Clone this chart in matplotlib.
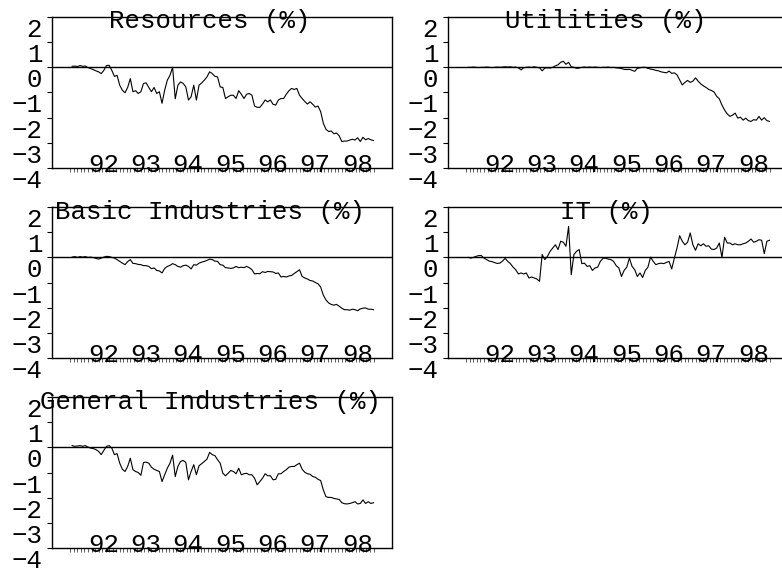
import numpy as np
import matplotlib
matplotlib.use("Agg")
import matplotlib.pyplot as plt
from matplotlib.transforms import ScaledTranslation

# relative sector returns (%), one value every 1/16 year from Aug 1991
start_year = 1991.625

resources = [0.04, 0.05, 0.03, 0.07, 0.04, 0.05, -0.01, -0.05, -0.09, -0.14,
             -0.18, -0.25, -0.12, 0.07, 0.08, -0.12, -0.36, -0.32, -0.71, -0.91,
             -1.01, -0.80, -0.45, -0.97, -0.93, -1.04, -0.97, -0.64, -0.62, -0.80,
             -0.97, -0.80, -1.04, -0.97, -1.43, -0.91, -0.51, -0.32, 0.0, -1.25,
             -0.71, -0.58, -0.64, -0.78, -1.30, -1.17, -0.71, -1.30, -0.71, -0.62,
             -0.51, -0.38, -0.18, -0.25, -0.36, -0.38, -0.78, -0.80, -1.24, -1.17,
             -1.11, -1.11, -1.24, -0.93, -1.07, -1.24, -1.07, -1.04, -1.11, -1.54,
             -1.59, -1.59, -1.46, -1.30, -1.37, -1.30, -1.47, -1.50, -1.30, -1.24,
             -1.24, -1.07, -0.93, -0.84, -0.88, -0.84, -1.11, -1.24, -1.36, -1.46,
             -1.37, -1.47, -1.58, -1.54, -1.76, -2.22, -2.46, -2.55, -2.53, -2.64,
             -2.61, -2.72, -2.95, -2.93, -2.93, -2.89, -2.86, -2.89, -2.80, -2.95,
             -2.78, -2.88, -2.83, -2.88, -2.91]

utilities = [0.0, 0.0, 0.01, 0.0, -0.01, 0.0, 0.0, 0.01, 0.0, -0.01,
             0.0, 0.01, 0.0, 0.01, 0.02, 0.01, 0.02, 0.0, 0.01, -0.02,
             -0.10, -0.02, 0.0, 0.01, 0.0, 0.02, 0.0, -0.02, -0.14, -0.03,
             -0.02, -0.03, 0.0, 0.06, 0.10, 0.20, 0.24, 0.12, 0.20, 0.02,
             0.0, -0.04, -0.03, 0.0, 0.01, 0.0, 0.01, 0.0, 0.01, 0.0,
             -0.01, 0.0, 0.0, 0.01, -0.01, 0.0, -0.02, -0.03, -0.05, -0.08,
             -0.09, -0.08, -0.12, -0.16, -0.04, -0.02, 0.0, 0.0, -0.04, -0.07,
             -0.09, -0.12, -0.14, -0.18, -0.20, -0.22, -0.15, -0.24, -0.22, -0.30,
             -0.50, -0.70, -0.60, -0.52, -0.60, -0.55, -0.42, -0.55, -0.66, -0.74,
             -0.80, -0.88, -0.92, -0.98, -1.15, -1.25, -1.50, -1.70, -1.85, -1.95,
             -1.90, -1.82, -2.02, -1.98, -2.10, -2.02, -2.12, -2.15, -2.08, -2.10,
             -1.95, -2.10, -2.00, -2.12, -2.15]

basic = [0.01, 0.03, 0.0, 0.03, 0.01, 0.03, 0.0, 0.01, -0.01, -0.04,
         -0.07, -0.03, 0.01, 0.04, 0.03, 0.0, -0.03, -0.09, -0.16, -0.23,
         -0.29, -0.17, -0.09, -0.24, -0.25, -0.28, -0.29, -0.33, -0.33, -0.36,
         -0.45, -0.42, -0.52, -0.54, -0.62, -0.44, -0.36, -0.32, -0.25, -0.29,
         -0.36, -0.39, -0.33, -0.31, -0.36, -0.46, -0.29, -0.31, -0.23, -0.19,
         -0.16, -0.12, -0.07, -0.09, -0.15, -0.16, -0.29, -0.31, -0.41, -0.42,
         -0.44, -0.42, -0.36, -0.41, -0.39, -0.41, -0.36, -0.41, -0.49, -0.66,
         -0.64, -0.65, -0.57, -0.60, -0.56, -0.57, -0.58, -0.64, -0.62, -0.78,
         -0.76, -0.78, -0.74, -0.72, -0.64, -0.57, -0.49, -0.76, -0.82, -0.86,
         -0.92, -0.94, -1.00, -1.05, -1.18, -1.50, -1.69, -1.81, -1.87, -1.90,
         -1.87, -1.94, -2.02, -2.08, -2.08, -2.10, -2.06, -2.08, -2.12, -2.05,
         -2.02, -2.01, -2.06, -2.06, -2.08]

it = [0.0, -0.03, 0.0, 0.04, 0.07, 0.07, -0.03, -0.09, -0.15, -0.17,
      -0.21, -0.24, -0.23, -0.15, -0.04, -0.16, -0.25, -0.39, -0.49, -0.66,
      -0.62, -0.66, -0.62, -0.82, -0.78, -0.82, -0.86, -0.95, 0.11, -0.09,
      0.04, 0.24, 0.37, 0.50, 0.31, 0.64, 0.60, 0.44, 1.23, -0.69,
      0.11, 0.24, 0.31, -0.25, -0.23, -0.36, -0.33, -0.52, -0.42, -0.39,
      -0.16, -0.04, -0.03, -0.07, -0.09, -0.16, -0.33, -0.42, -0.76, -0.52,
      -0.39, -0.03, -0.36, -0.49, -0.76, -0.62, -0.80, -0.52, -0.39, 0.01,
      -0.16, -0.29, -0.25, -0.23, -0.25, -0.20, -0.16, -0.46, -0.03, 0.37,
      0.86, 0.64, 0.50, 0.60, 0.97, 0.50, 0.28, 0.54, 0.46, 0.54,
      0.44, 0.46, 0.33, 0.31, 0.37, 0.57, 0.0, 0.80, 0.57, 0.57,
      0.50, 0.54, 0.50, 0.50, 0.54, 0.57, 0.64, 0.73, 0.60, 0.64,
      0.70, 0.68, 0.15, 0.64, 0.68]

general = [0.07, 0.04, 0.05, 0.07, 0.04, 0.07, 0.01, -0.03, -0.05, -0.09,
           -0.16, -0.29, -0.12, 0.04, 0.07, -0.03, -0.29, -0.25, -0.63, -0.87,
           -0.96, -0.76, -0.43, -0.89, -0.96, -1.00, -1.11, -0.60, -0.59, -0.63,
           -0.79, -0.87, -0.92, -0.96, -1.36, -1.09, -0.83, -0.63, -0.31, -1.16,
           -0.76, -0.56, -0.52, -0.60, -1.29, -0.96, -0.69, -1.09, -0.73, -0.65,
           -0.56, -0.47, -0.20, -0.29, -0.33, -0.49, -0.63, -1.03, -1.13, -1.03,
           -0.92, -0.96, -1.05, -0.83, -1.09, -1.05, -1.03, -1.09, -1.09, -1.23,
           -1.49, -1.36, -1.23, -1.05, -1.13, -1.13, -1.29, -1.27, -1.05, -1.05,
           -0.96, -0.89, -0.79, -0.76, -0.76, -0.69, -0.63, -0.87, -0.99, -1.05,
           -1.07, -1.16, -1.19, -1.27, -1.32, -1.69, -1.96, -1.99, -1.99, -2.03,
           -2.05, -2.07, -2.20, -2.24, -2.25, -2.23, -2.20, -2.16, -2.25, -2.23,
           -2.09, -2.23, -2.16, -2.23, -2.20]

titles = ["Resources (%)", "Utilities (%)", "Basic Industries (%)",
          "IT (%)", "General Industries (%)"]
year_starts = [1992, 1993, 1994, 1995, 1996, 1997, 1998]
year_labels = ["92", "93", "94", "95", "96", "97", "98"]
y_ticks = [-4, -3, -2, -1, 0, 1, 2]

plt.rcParams['font.family'] = ['Liberation Mono', 'DejaVu Sans Mono']
FS = 18.5

fig = plt.figure(figsize=(7.82, 5.70), dpi=100)

# panel boxes in figure fractions: left, bottom (all the same size)
W, H = 0.4348, 0.2649
boxes = [(0.0665, 0.7053), (0.5729, 0.7053),
         (0.0665, 0.3719), (0.5729, 0.3719),
         (0.0665, 0.0386)]
series = [resources, utilities, basic, it, general]

ylab_shift = ScaledTranslation(0, -0.20, fig.dpi_scale_trans)
year_shift = ScaledTranslation(0, -0.04, fig.dpi_scale_trans)
month_ticks = np.arange(1991 + 7 / 12, 1998.76, 1 / 12)

for (left, bottom), vals, title in zip(boxes, series, titles):
    ax = fig.add_axes([left, bottom, W, H])
    t = start_year + np.arange(len(vals)) / 16
    ax.axhline(0, color='black', lw=1.0)
    ax.plot(t, vals, color='black', lw=0.8)

    ax.set_xlim(1991.149, 1999.187)
    ax.set_ylim(-4, 2)

    for sp in ax.spines.values():
        sp.set_color('black')
        sp.set_linewidth(1.0)

    # y labels hang below their ticks
    ax.set_yticks(y_ticks, labels=[str(v).replace('-', '\u2212') for v in y_ticks])
    ax.tick_params(axis='y', direction='out', length=3.6, width=0.8,
                   pad=3.5, labelsize=FS)
    for lab in ax.get_yticklabels():
        lab.set_va('baseline')
        lab.set_transform(lab.get_transform() + ylab_shift)

    # monthly ticks, no labels
    ax.set_xticks(month_ticks)
    ax.tick_params(axis='x', direction='out', length=3, width=0.6,
                   labelbottom=False, color='#444444')

    # year labels sit on top of the bottom axis line
    for yr, lab in zip(year_starts, year_labels):
        ax.text(yr, -4, lab, fontsize=FS, ha='left', va='baseline',
                transform=ax.transData + year_shift)

    ax.text(0.465, 1 - 11.5 / 151, title, transform=ax.transAxes,
            ha='center', va='baseline', fontsize=FS)

fig.savefig('out.png', dpi=100)
